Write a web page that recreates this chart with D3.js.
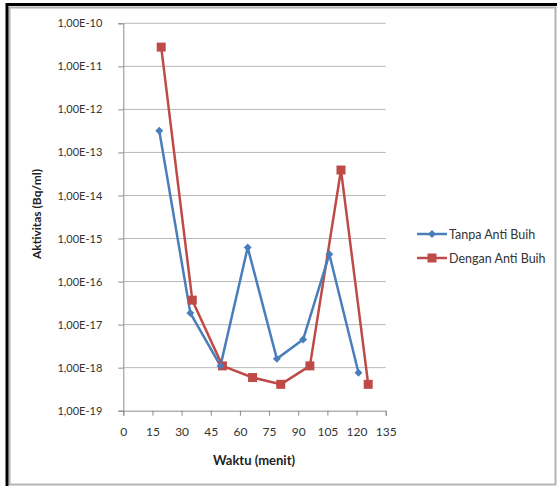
<!DOCTYPE html>
<html>
<head>
<meta charset="utf-8">
<script src="https://cdn.jsdelivr.net/npm/d3@7"></script>
<style>
  body { margin: 0; background: #fff; }
  text { font-family: Lato, "Open Sans", sans-serif; fill: #222; }
</style>
</head>
<body>
<div id="chart"></div>
<script>
// waktu (menit) and aktivitas (Bq/ml)
let tanpaX = [18.5, 34.5, 50, 64, 79, 92.5, 106, 121];
let tanpaY = [3.2e-13, 1.85e-17, 1.1e-18, 6.2e-16, 1.6e-18, 4.5e-18, 4.3e-16, 7.6e-19];
let denganX = [19.5, 35.5, 51, 66.5, 81, 96, 112, 126];
let denganY = [2.8e-11, 3.7e-17, 1.1e-18, 5.9e-19, 4.1e-19, 1.1e-18, 3.9e-14, 4.1e-19];
let xTicks = [0, 15, 30, 45, 60, 75, 90, 105, 120, 135];
let yTicks = [1e-19, 1e-18, 1e-17, 1e-16, 1e-15, 1e-14, 1e-13, 1e-12, 1e-11, 1e-10];
let seriesNames = ["Tanpa Anti Buih", "Dengan Anti Buih"];

let width = 557, height = 486;
let plotLeft = 123.3, plotRight = 385.7, plotTop = 23.3, plotBottom = 410.7;

let svg = d3.select("#chart").append("svg")
  .attr("width", width).attr("height", height);

// frame
svg.append("rect").attr("x", 9.5).attr("y", 7.5).attr("width", 546).attr("height", 477)
  .attr("fill", "#fff").attr("stroke", "#b4b4b4").attr("stroke-width", 2);
svg.append("path").attr("d", "M7,486 V4.5 H557")
  .attr("fill", "none").attr("stroke", "#000").attr("stroke-width", 3);

let x = d3.scaleLinear().domain([0, 135]).range([plotLeft, plotRight]);
let y = d3.scaleLog().domain([1e-19, 1e-10]).range([plotBottom, plotTop]);

// gridlines
svg.append("g").selectAll("line").data(yTicks.slice(1)).enter().append("line")
  .attr("x1", plotLeft).attr("x2", plotRight)
  .attr("y1", d => y(d)).attr("y2", d => y(d))
  .attr("stroke", "#b8b8b8").attr("stroke-width", 1);

let fmt = d => "1,00E-" + Math.round(-Math.log10(d));

let yAxis = d3.axisLeft(y).tickValues(yTicks).tickFormat(fmt).tickSize(5).tickPadding(16);
let gy = svg.append("g").attr("transform", "translate(" + plotLeft + ",0)").call(yAxis);
gy.selectAll("text").style("font-size", "11px").style("fill", "#333");

let xAxis = d3.axisBottom(x).tickValues(xTicks).tickSize(5).tickPadding(12);
let gx = svg.append("g").attr("transform", "translate(0," + plotBottom + ")").call(xAxis);
gx.selectAll("text").style("font-size", "12px").style("fill", "#333");

[gx, gy].forEach(g => {
  g.select(".domain").attr("stroke", "#8c8c8c");
  g.selectAll(".tick line").attr("stroke", "#8c8c8c");
});

// axis titles
svg.append("text").text("Waktu (menit)")
  .attr("x", 254).attr("y", 465).attr("text-anchor", "middle")
  .style("font-size", "13px").style("font-weight", "bold");
svg.append("text").text("Aktivitas (Bq/ml)")
  .attr("transform", "translate(41,214) rotate(-90)").attr("text-anchor", "middle")
  .style("font-size", "12px").style("font-weight", "bold");

let blue = "#4a7ebb", red = "#be4b48";
let line = d3.line().x(d => x(d[0])).y(d => y(d[1]));

let tanpa = tanpaX.map((v, i) => [v, tanpaY[i]]);
let dengan = denganX.map((v, i) => [v, denganY[i]]);

svg.append("path").datum(dengan).attr("d", line)
  .attr("fill", "none").attr("stroke", red).attr("stroke-width", 2.5).attr("stroke-linejoin", "round");
svg.append("path").datum(tanpa).attr("d", line)
  .attr("fill", "none").attr("stroke", blue).attr("stroke-width", 2.5).attr("stroke-linejoin", "round");

let diamond = d3.symbol().type(d3.symbolDiamond2).size(40);

function drawSquare(g, cx, cy) {
  g.append("rect").attr("x", cx - 4.5).attr("y", cy - 4.5).attr("width", 9).attr("height", 9)
    .attr("fill", red);
}
function drawDiamond(g, cx, cy) {
  g.append("path").attr("d", diamond).attr("transform", "translate(" + cx + "," + cy + ")")
    .attr("fill", blue);
}

let marks = svg.append("g");
dengan.forEach(d => drawSquare(marks, x(d[0]), y(d[1])));
tanpa.forEach(d => drawDiamond(marks, x(d[0]), y(d[1])));

// legend
let legend = svg.append("g");
seriesNames.forEach((name, i) => {
  let ly = 234 + i * 24;
  let col = i === 0 ? blue : red;
  legend.append("line").attr("x1", 417).attr("x2", 447).attr("y1", ly).attr("y2", ly)
    .attr("stroke", col).attr("stroke-width", 2.5);
  if (i === 0) drawDiamond(legend, 432, ly); else drawSquare(legend, 432, ly);
  legend.append("text").text(name).attr("x", 449).attr("y", ly + 4.5)
    .style("font-size", "12.5px").style("fill", "#333");
});
</script>
</body>
</html>
